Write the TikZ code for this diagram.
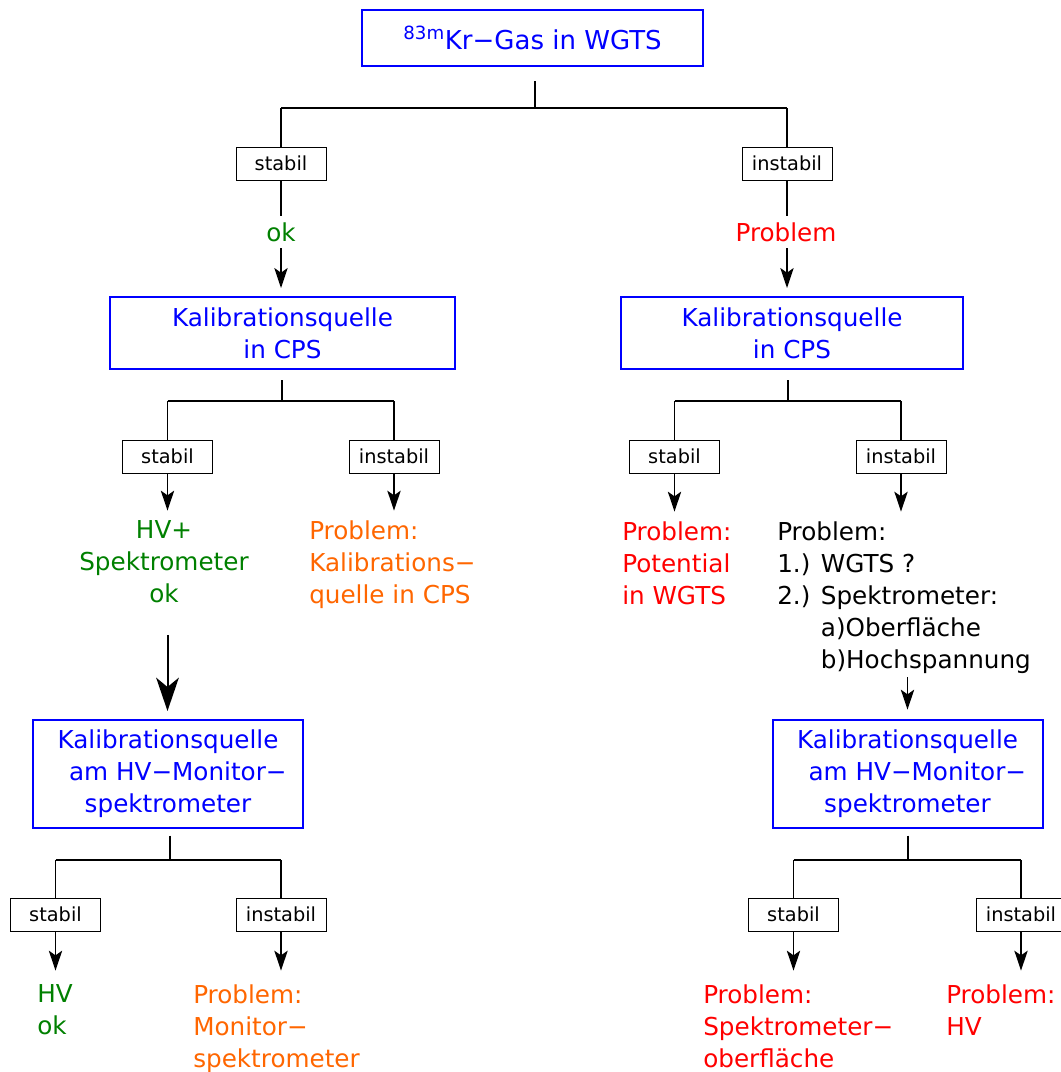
\documentclass[tikz,border=0pt]{standalone}
\usepackage{fontspec}
\setmainfont{DejaVu Sans}
\usetikzlibrary{arrows.meta}
\definecolor{kblue}{RGB}{0,0,255}
\definecolor{kgreen}{RGB}{0,128,0}
\definecolor{kred}{RGB}{255,0,0}
\definecolor{korange}{RGB}{255,102,0}
\begin{document}
\begin{tikzpicture}[x=0.75pt,y=-0.75pt,
  bigtext/.style={font=\fontsize{18.5}{24}\selectfont},
  bluebox/.style={draw=kblue, line width=1.5pt, text=kblue, align=center, inner sep=0pt, bigtext},
  tag/.style={draw=black, line width=0.75pt, inner sep=0pt, minimum width=67.5pt, minimum height=24.75pt, font=\fontsize{14.5}{17}\selectfont},
  res/.style={inner sep=0pt, bigtext},
  conn/.style={line width=0.8pt},
  arr/.style={line width=1pt, -{Stealth[length=15pt,width=10pt,inset=3.5pt]}},
  bigarr/.style={line width=1.5pt, -{Stealth[length=25pt,width=17pt,inset=7pt]}}
]
\useasboundingbox (0,0) rectangle (1061,1072);

% main boxes
\node[bluebox, minimum width=255.75pt, minimum height=42pt, font=\fontsize{19.5}{24}\selectfont] (top) at (532.5,38) {\textsuperscript{83m}Kr−Gas in WGTS};
\node[bluebox, minimum width=258.75pt, minimum height=54pt] (cpsL) at (282.5,333) {Kalibrationsquelle\\in CPS};
\node[bluebox, minimum width=256.5pt, minimum height=54pt] (cpsR) at (792,333) {Kalibrationsquelle\\in CPS};
\node[bluebox, minimum width=202.5pt, minimum height=81pt] (hvL) at (168,774) {Kalibrationsquelle\\\hspace*{0.8em}am HV−Monitor−\\spektrometer};
\node[bluebox, minimum width=202.5pt, minimum height=81pt] (hvR) at (907.5,774) {Kalibrationsquelle\\\hspace*{0.8em}am HV−Monitor−\\spektrometer};

% tags
\node[tag] (t1) at (281,163.5) {stabil};
\node[tag] (t2) at (787,163.5) {instabil};
\node[tag] (t3) at (167.5,456.5) {stabil};
\node[tag] (t4) at (394,456.5) {instabil};
\node[tag] (t5) at (674.5,456.5) {stabil};
\node[tag] (t6) at (901,456.5) {instabil};
\node[tag] (t7) at (55.5,914.5) {stabil};
\node[tag] (t8) at (281,914.5) {instabil};
\node[tag] (t9) at (793.5,914.5) {stabil};
\node[tag] (t10) at (1021,914.5) {instabil};

% results
\node[res, text=kgreen] (ok) at (281,232) {ok};
\node[res, text=kred] (prob) at (786,232) {Problem};
\node[res, text=kgreen, align=center, anchor=north] (hvok) at (164,520) {HV+\\Spektrometer\\ok};
\node[res, text=korange, align=left, anchor=north west] (probK) at (309,520) {Problem:\\Kalibrations−\\quelle in CPS};
\node[res, text=kred, align=left, anchor=north west] (probP) at (622,521) {Problem:\\Potential\\in WGTS};
\node[res, text=black, align=left, anchor=north west] (probM) at (777,521) {Problem:\\1.) WGTS ?\\2.) Spektrometer:\\\phantom{2.) }a)Oberfläche\\\phantom{2.) }b)Hochspannung};
\node[res, text=kgreen, align=left, anchor=north west] (hvok2) at (37,984) {HV\\ok};
\node[res, text=korange, align=left, anchor=north west] (probMon) at (193,984) {Problem:\\Monitor−\\spektrometer};
\node[res, text=kred, align=left, anchor=north west] (probS) at (703,984) {Problem:\\Spektrometer−\\oberfläche};
\node[res, text=kred, align=left, anchor=north west] (probHV) at (946,984) {Problem:\\HV};

% junctions
\coordinate (j0) at (535,108);
\coordinate (j1) at (282,401);
\coordinate (j2) at (788,401);
\coordinate (j3) at (170,860);
\coordinate (j4) at (908,860);

% top tree
\draw[conn, shorten <=10.5pt] (j0 |- top.south) -- (j0);
\draw[line width=1.6pt] (t1.north |- j0) -- (t2.north |- j0);
\draw[conn] (t1.north |- j0) -- (t1.north);
\draw[conn] (t2.north |- j0) -- (t2.north);
\draw[conn, shorten >=5pt] (t1.south) -- (ok.north);
\draw[conn, shorten >=5pt] (t2.south) -- (t2.south |- prob.north);
\draw[arr, shorten <=5pt, shorten >=6pt] (ok.south) -- (ok.south |- cpsL.north);
\draw[arr, shorten <=5pt, shorten >=6pt] (t2.south |- prob.south) -- (t2.south |- cpsR.north);

% CPS trees
\draw[conn, shorten <=7.5pt] (j1 |- cpsL.south) -- (j1);
\draw[conn] (t3.north |- j1) -- (t4.north |- j1);
\draw[conn] (t3.north |- j1) -- (t3.north);
\draw[conn] (t4.north |- j1) -- (t4.north);
\draw[conn, shorten <=7.5pt] (j2 |- cpsR.south) -- (j2);
\draw[conn] (t5.north |- j2) -- (t6.north |- j2);
\draw[conn] (t5.north |- j2) -- (t5.north);
\draw[conn] (t6.north |- j2) -- (t6.north);

\draw[arr, shorten >=7pt] (t3.south) -- (t3.south |- hvok.north);
\draw[arr, shorten >=7pt] (t4.south) -- (t4.south |- probK.north);
\draw[arr, shorten >=7pt] (t5.south) -- (t5.south |- probP.north);
\draw[arr, shorten >=7pt] (t6.south) -- (t6.south |- probM.north);

\draw[bigarr, shorten <=24pt, shorten >=6pt] (t3.south |- hvok.south) -- (t3.south |- hvL.north);
\draw[arr, shorten <=3pt, shorten >=7pt] (hvR.north |- probM.south) -- (hvR.north);

% HV trees
\draw[conn, shorten <=5pt] (j3 |- hvL.south) -- (j3);
\draw[conn] (t7.north |- j3) -- (t8.north |- j3);
\draw[conn] (t7.north |- j3) -- (t7.north);
\draw[conn] (t8.north |- j3) -- (t8.north);
\draw[conn, shorten <=5pt] (j4 |- hvR.south) -- (j4);
\draw[conn] (t9.north |- j4) -- (t10.north |- j4);
\draw[conn] (t9.north |- j4) -- (t9.north);
\draw[conn] (t10.north |- j4) -- (t10.north);

\draw[arr, shorten >=10pt] (t7.south) -- (t7.south |- hvok2.north);
\draw[arr, shorten >=10pt] (t8.south) -- (t8.south |- probMon.north);
\draw[arr, shorten >=10pt] (t9.south) -- (t9.south |- probS.north);
\draw[arr, shorten >=10pt] (t10.south) -- (t10.south |- probHV.north);
\end{tikzpicture}
\end{document}
